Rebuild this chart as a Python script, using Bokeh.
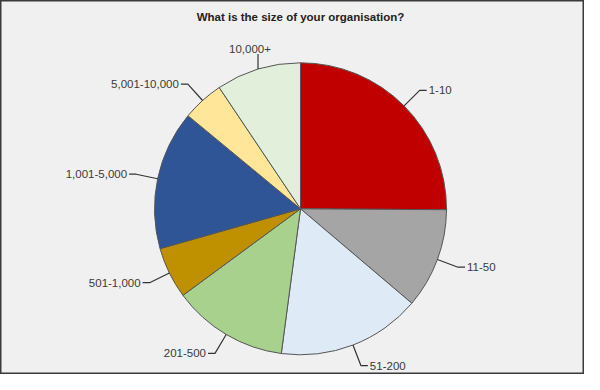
import numpy as np
from bokeh.plotting import figure
from bokeh.models import Range1d, ColumnDataSource
from bokeh.core.properties import value
from bokeh.embed import file_html
from bokeh.resources import INLINE

# ---- data ----
title = "What is the size of your organisation?"
categories = ["1-10", "11-50", "51-200", "201-500", "501-1,000",
              "1,001-5,000", "5,001-10,000", "10,000+"]
shares = [25.1, 11.1, 15.9, 12.8, 5.7, 15.4, 4.6, 9.4]
colors = ["#C00000", "#A5A5A5", "#DEEBF7", "#A9D18E", "#BF9000",
          "#2F5597", "#FFE699", "#E2EFDA"]

# ---- layout (screen-like pixel coordinates, y measured upward) ----
W, H = 584, 374
cx, cy, r = 300.0, 390 - 208.3, 146.0
r_elbow = r + 22
hseg = 7

p = figure(width=W, height=H, output_backend="svg", toolbar_location=None,
           x_range=Range1d(0, W), y_range=Range1d(390 - H, 390),
           x_axis_type=None, y_axis_type=None, min_border=0)
p.grid.visible = False
p.background_fill_color = "#F0F0F0"
p.border_fill_color = "#F0F0F0"
p.outline_line_color = "#3A3A3A"
p.outline_line_width = 2

vals = np.array(shares, dtype=float)
frac = vals / vals.sum()
cum = np.cumsum(frac)
prev = np.concatenate([[0.0], cum[:-1]])
start = np.pi / 2 - 2 * np.pi * prev
end = np.pi / 2 - 2 * np.pi * cum
mid = (start + end) / 2

src = ColumnDataSource(dict(start=start, end=end, color=colors, cat=categories))
p.wedge(x=cx, y=cy, radius=r, start_angle="start", end_angle="end",
        direction="clock", fill_color="color", line_color="#555555",
        line_width=1, source=src)

xs, ys, tx, ty, ta = [], [], [], [], []
for m in mid:
    ex, ey = cx + r * np.cos(m), cy + r * np.sin(m)
    if abs(np.cos(m)) < 0.35 and np.sin(m) > 0:
        top = ey + 15
        xs.append([ex, ex]); ys.append([ey, top])
        tx.append(ex - 8); ty.append(top + 5); ta.append("center")
    else:
        bx, by = cx + r_elbow * np.cos(m), cy + r_elbow * np.sin(m)
        s = 1 if np.cos(m) >= 0 else -1
        fx = bx + s * hseg
        xs.append([ex, bx, fx]); ys.append([ey, by, by])
        tx.append(fx + s * 2); ty.append(by); ta.append("left" if s > 0 else "right")

p.multi_line(xs=xs, ys=ys, line_color="#333333", line_width=1.2)
p.text(x=tx, y=ty, text=categories, text_align=ta, text_baseline="alphabetic",
       text_font=value("Liberation Sans"), text_font_size="11.5px",
       text_color="#3A3A3A")

p.text(x=[cx], y=[390 - 16], text=[title], text_align="center",
       text_baseline="middle", text_font=value("Liberation Sans"),
       text_font_size="11.5px", text_font_style="bold", text_color="#222222")

open("out.html", "w").write(file_html(p, INLINE))
